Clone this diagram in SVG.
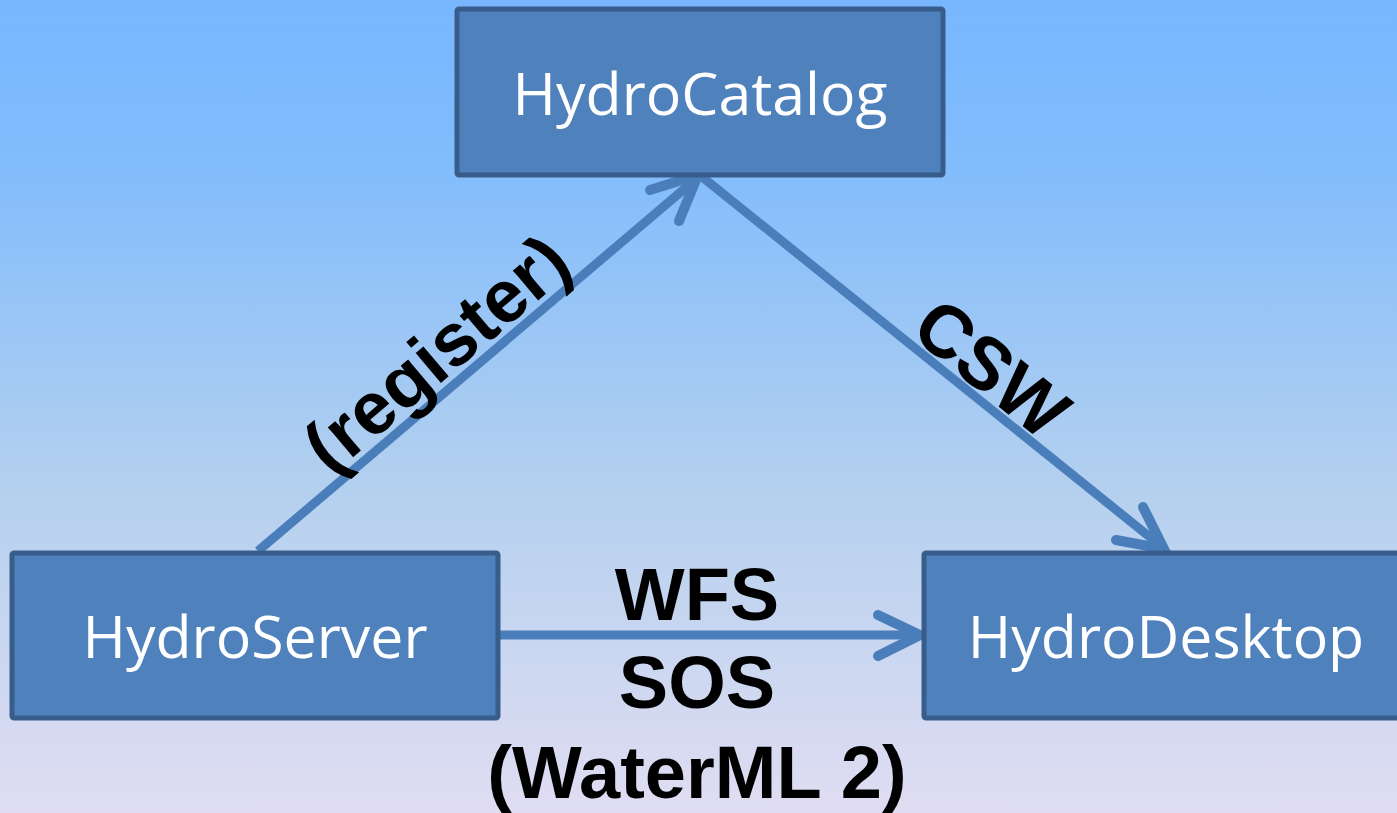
<svg xmlns="http://www.w3.org/2000/svg" width="1397" height="813" viewBox="0 0 1397 813">
<defs>
<linearGradient id="bg" x1="0" y1="0" x2="0" y2="1">
<stop offset="0" stop-color="#78b6fe"/>
<stop offset="0.2" stop-color="#81bcfc"/>
<stop offset="0.6" stop-color="#b4d0ef"/>
<stop offset="1" stop-color="#e0ddf2"/>
</linearGradient>
<style>
.box{fill:#4f81bd;stroke:#385d8a;stroke-width:5}
.nlabel{font-family:"Open Sans","Noto Sans",sans-serif;font-size:59px;fill:#ffffff;text-anchor:middle}
.conn{fill:none;stroke:#4a7ebb;stroke-width:9;stroke-linecap:butt}
.head{fill:none;stroke:#4a7ebb;stroke-width:10;stroke-linecap:round;stroke-linejoin:miter}
.elabel{font-family:"Liberation Sans",Arial,sans-serif;font-weight:bold;font-size:74px;fill:#000000;text-anchor:middle}
</style>
</defs>
<rect x="0" y="0" width="1397" height="813" fill="url(#bg)"/>
<g id="connectors">
<line class="conn" x1="258" y1="551" x2="696" y2="179"/>
<polyline class="head" points="650,190 698,175 679,221"/>
<line class="conn" x1="701" y1="176" x2="1161" y2="546"/>
<polyline class="head" points="1143,507 1164,549 1116,540"/>
<line class="conn" x1="499" y1="635" x2="917" y2="635"/>
<polyline class="head" points="878,615 920,635 878,656"/>
<text class="elabel" transform="translate(436,353) rotate(-40.3)" x="0" y="26">(register)</text>
<text class="elabel" transform="translate(992,368) rotate(39)" x="0" y="26">CSW</text>
<text class="elabel" x="697" y="620">WFS</text>
<text class="elabel" x="697" y="708">SOS</text>
<text class="elabel" x="697" y="798">(WaterML 2)</text>
</g>
<g id="hydrocatalog">
<rect class="box" x="457" y="9" width="486" height="166" rx="2"/>
<text class="nlabel" x="700" y="115">HydroCatalog</text>
</g>
<g id="hydroserver">
<rect class="box" x="12" y="553" width="486" height="165" rx="2"/>
<text class="nlabel" x="255" y="658">HydroServer</text>
</g>
<g id="hydrodesktop">
<rect class="box" x="924" y="553" width="486" height="165" rx="2"/>
<text class="nlabel" x="1166" y="658">HydroDesktop</text>
</g>
</svg>
